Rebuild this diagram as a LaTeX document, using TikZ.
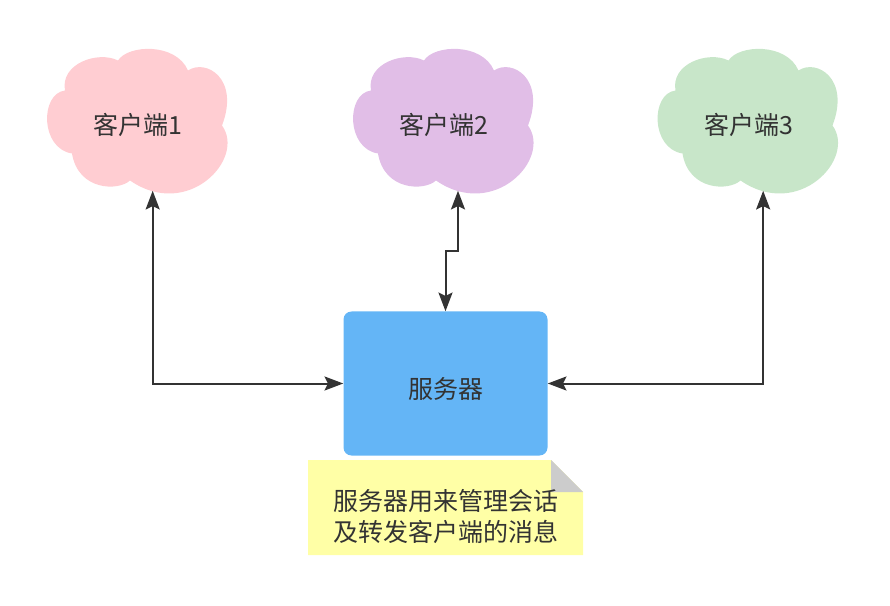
\documentclass[tikz,border=0pt]{standalone}
\usepackage{fontspec}
\setmainfont{Noto Sans CJK SC}
\usetikzlibrary{arrows.meta}
\definecolor{inkgray}{HTML}{333333}
\definecolor{cloudpink}{HTML}{FFCDD2}
\definecolor{cloudpurple}{HTML}{E1BEE7}
\definecolor{cloudgreen}{HTML}{C8E6C9}
\definecolor{serverblue}{HTML}{64B5F6}
\definecolor{noteyellow}{HTML}{FFFFA6}
\definecolor{foldgray}{HTML}{CCCCCC}

\tikzset{
  puff/.pic={
    \begin{scope}[shift={(-90,-71)}]
      \path[pic actions] (17,42) .. controls (12,15) and (50,2) .. (70,12)
        .. controls (80,-4) and (128,-6) .. (140,22)
        .. controls (158,10) and (192,30) .. (174,77)
        .. controls (198,110) and (140,172) .. (82,132)
        .. controls (70,143) and (30,142) .. (24,105)
        .. controls (-8,100) and (-8,45) .. (17,42) -- cycle;
    \end{scope}}
}

\begin{document}
\begin{tikzpicture}[x=0.75pt, y=-0.75pt,
    every node/.style={font=\fontsize{18.75pt}{23.25pt}\selectfont, text=inkgray},
    labeltext/.style={text height=22.5pt, text depth=0pt},
    client/.style={labeltext, inner sep=0pt, minimum width=135pt, minimum height=106.5pt},
    server/.style={labeltext, fill=serverblue, rounded corners=6pt,
      minimum width=153pt, minimum height=108pt},
    note/.style={align=center, inner sep=0pt, text height=51pt, text depth=0pt,
      minimum width=206.25pt, minimum height=71.25pt,
      path picture={
        \fill[noteyellow] (path picture bounding box.north west)
          -- ([xshift=-24pt]path picture bounding box.north east)
          -- ([yshift=-24pt]path picture bounding box.north east)
          -- (path picture bounding box.south east)
          -- (path picture bounding box.south west) -- cycle;
        \fill[foldgray] ([xshift=-24pt]path picture bounding box.north east)
          -- ([xshift=-24pt,yshift=-24pt]path picture bounding box.north east)
          -- ([yshift=-24pt]path picture bounding box.north east) -- cycle;}},
    link/.style={{Stealth[length=14pt,width=10.5pt,inset=2.5pt]}-{Stealth[length=14pt,width=10.5pt,inset=2.5pt]},
      line width=1.5pt, draw=inkgray}
  ]
  \useasboundingbox (0,0) rectangle (890,606);

  % clients
  \pic[fill=cloudpink] at (138,119.5) {puff};
  \pic[fill=cloudpurple] at (444,119.5) {puff};
  \pic[fill=cloudgreen] at (748.5,119.5) {puff};
  \node[client] (c1) at (138,119.5) {客户端1};
  \node[client] (c2) at (444,119.5) {客户端2};
  \node[client] (c3) at (748.5,119.5) {客户端3};

  % server and its note
  \node[server] (srv) at (445.5,383.5) {服务器};
  \node[note] (memo) at (445.5,507.5) {服务器用来管理会话\\及转发客户端的消息};

  % links
  \coordinate (jog) at (445.5,251);
  \draw[link] ([xshift=11pt]c1.south) |- (srv.west);
  \draw[link] ([xshift=10.5pt]c2.south) |- (jog) -| (srv.north);
  \draw[link] ([xshift=11pt]c3.south) |- (srv.east);
\end{tikzpicture}
\end{document}
